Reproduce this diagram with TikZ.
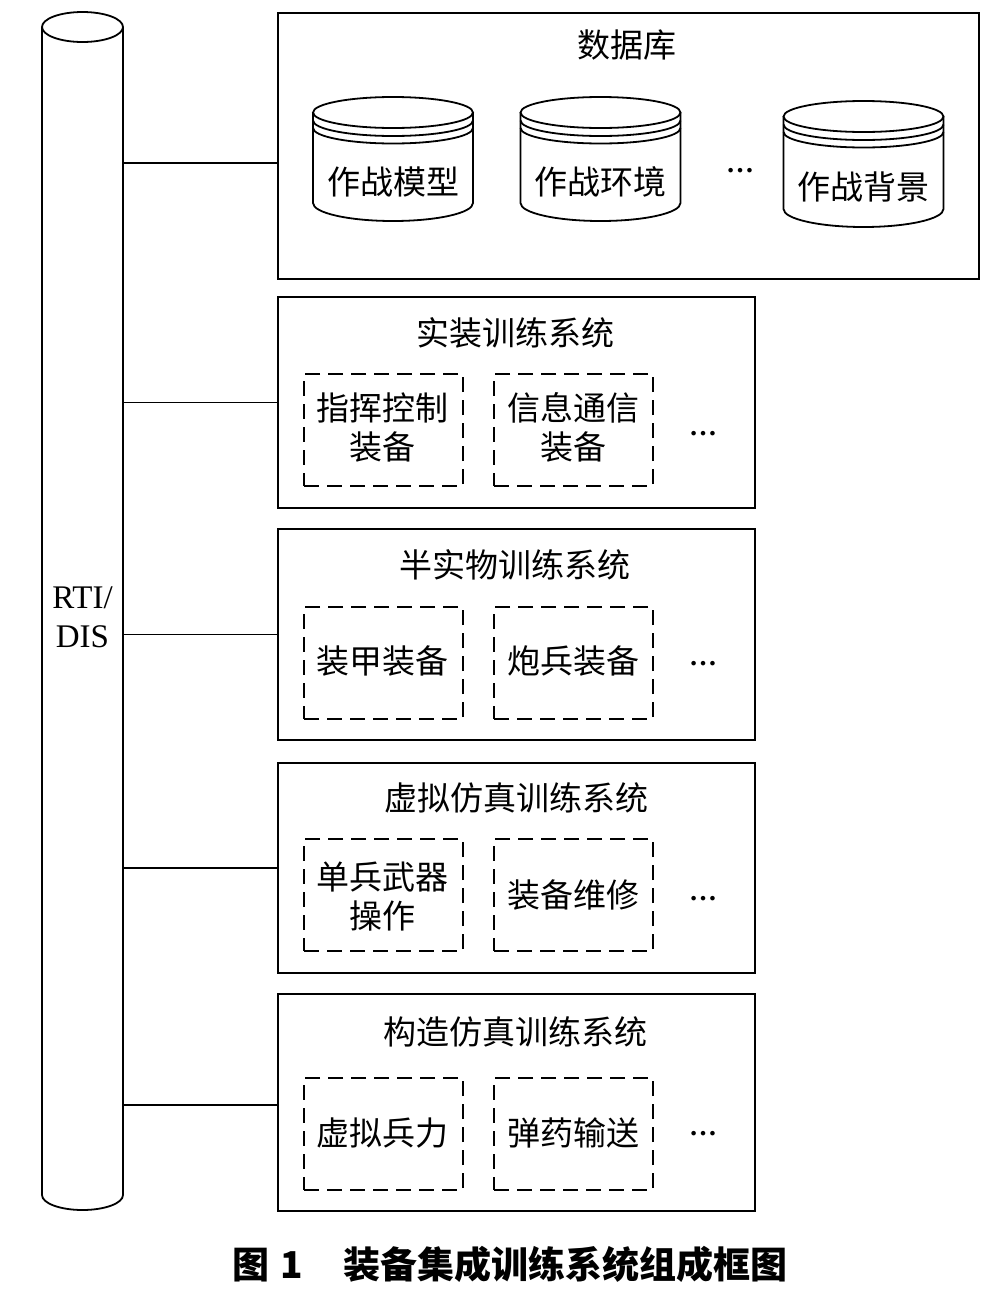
\documentclass[tikz,border=0pt]{standalone}
\usepackage{fontspec}
\newfontfamily\cjk{Noto Sans CJK SC}
\newfontfamily\latserif{Liberation Serif}
\newcommand\dbcyl[3]{%
  \draw[line width=1.8pt] (#1-80,#2) -- (#1-80,#3) arc[start angle=180,end angle=360,x radius=80pt,y radius=18pt] -- (#1+80,#2);
  \draw[line width=1.8pt] (#1,#2) ellipse[x radius=80pt,y radius=15.5pt];
  \draw[line width=1.8pt] (#1-80,#2-8) arc[start angle=180,end angle=360,x radius=80pt,y radius=15.5pt];
  \draw[line width=1.8pt] (#1-80,#2-15.5) arc[start angle=180,end angle=360,x radius=80pt,y radius=15.5pt];
}
\begin{document}
\begin{tikzpicture}[x=1pt,y=1pt,
  box/.style={draw,line width=2pt,inner sep=0,anchor=north west},
  dbox/.style={draw,line width=2pt,dash pattern=on 15pt off 8pt,inner sep=0,anchor=north west,minimum width=159pt,minimum height=112pt},
  lbl/.style={font=\cjk\fontsize{33}{39}\selectfont,inner sep=0,anchor=base},
  dotsty/.style={font=\latserif\bfseries\fontsize{28}{28}\selectfont,inner sep=0,anchor=base},
  link/.style={line width=1.8pt}]
\fill[white] (0,0) rectangle (1008,-1302);
\useasboundingbox (0,0) rectangle (1008,-1302);
% RTI/DIS bus
\draw[line width=1.8pt] (42,-27) -- (42,-1195) arc[start angle=180,end angle=360,x radius=40.5pt,y radius=15pt] -- (123,-27);
\draw[line width=1.8pt] (82.5,-27) ellipse[x radius=40.5pt,y radius=15pt];
\coordinate (bus) at (123,0);
\node[font=\latserif\fontsize{33}{39}\selectfont,inner sep=0,anchor=base] (rti) at (82.5,-608) {\begin{tabular}[t]{@{}c@{}}RTI/\\DIS\end{tabular}};
% database
\node[box,minimum width=701pt,minimum height=266pt] (db) at (277,-12) {};
\node[lbl] (dbt) at (627,-57) {数据库};
\dbcyl{393}{-112.5}{-203}
\dbcyl{600.5}{-112.5}{-203}
\dbcyl{863.5}{-116.5}{-209}
\node[lbl] (m1) at (393,-194) {作战模型};
\node[lbl] (m2) at (600.5,-194) {作战环境};
\node[lbl] (m3) at (863.5,-199) {作战背景};
\node[dotsty] (d1) at (740,-172) {…};
\coordinate (j1) at (123,-163);
\draw[link] (j1) -- (j1 -| db.west);
% box 2
\node[box,minimum width=477pt,minimum height=211pt] (b2) at (277,-296) {};
\node[lbl] (t2) at (515,-345) {实装训练系统};
\node[dbox] (b2a) at (303,-373) {};
\node[dbox] (b2b) at (493,-373) {};
\node[lbl] (b2at) at (382,-420) {\begin{tabular}[t]{@{}c@{}}指挥控制\\装备\end{tabular}};
\node[lbl] (b2bt) at (573,-420) {\begin{tabular}[t]{@{}c@{}}信息通信\\装备\end{tabular}};
\node[dotsty] (d2) at (703,-435) {…};
\draw[link] (bus |- b2.west) -- (b2.west);
% box 3
\node[box,minimum width=477pt,minimum height=211pt] (b3) at (277,-528) {};
\node[lbl] (t3) at (515,-577) {半实物训练系统};
\node[dbox] (b3a) at (303,-606) {};
\node[dbox] (b3b) at (493,-606) {};
\node[lbl] (b3at) at (382,-673) {装甲装备};
\node[lbl] (b3bt) at (573,-673) {炮兵装备};
\node[dotsty] (d3) at (703,-665) {…};
\draw[link] (bus |- b3.west) -- (b3.west);
% box 4
\node[box,minimum width=477pt,minimum height=210pt] (b4) at (277,-762) {};
\node[lbl] (t4) at (516,-810) {虚拟仿真训练系统};
\node[dbox] (b4a) at (303,-838) {};
\node[dbox] (b4b) at (493,-838) {};
\node[lbl] (b4at) at (382,-889) {\begin{tabular}[t]{@{}c@{}}单兵武器\\操作\end{tabular}};
\node[lbl] (b4bt) at (573,-907) {装备维修};
\node[dotsty] (d4) at (703,-900) {…};
\draw[link] (bus |- b4.west) -- (b4.west);
% box 5
\node[box,minimum width=477pt,minimum height=217pt] (b5) at (277,-993) {};
\node[lbl] (t5) at (515,-1044) {构造仿真训练系统};
\node[dbox] (b5a) at (303,-1077) {};
\node[dbox] (b5b) at (493,-1077) {};
\node[lbl] (b5at) at (382,-1145) {虚拟兵力};
\node[lbl] (b5bt) at (573,-1145) {弹药输送};
\node[dotsty] (d5) at (703,-1135) {…};
\coordinate (j5) at (123,-1105);
\draw[link] (j5) -- (j5 -| b5.west);
% caption
\node[font=\cjk\bfseries\fontsize{37}{37}\selectfont,inner sep=0,anchor=base] (cap) at (510,-1278) {图\hspace{0.3em}1\hspace{1.1em}装备集成训练系统组成框图};
\end{tikzpicture}
\end{document}
